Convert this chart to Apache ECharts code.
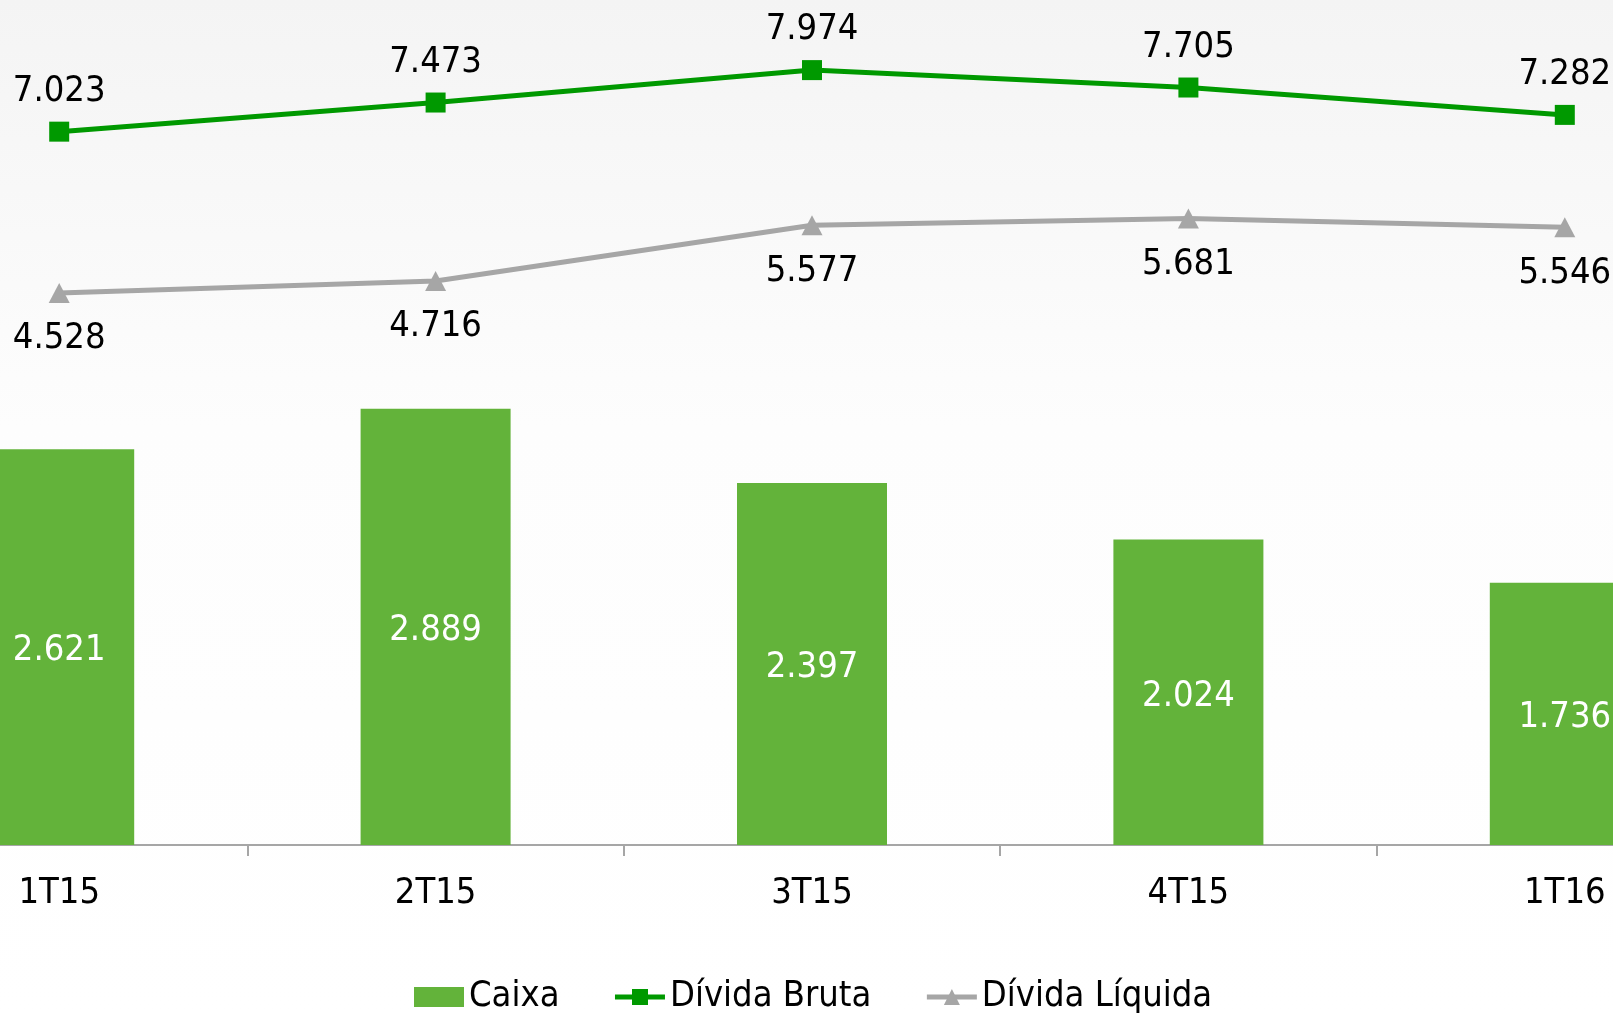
<!DOCTYPE html>
<html>

<head>
  <meta charset="utf-8" />
  <script src="https://cdn.jsdelivr.net/npm/echarts@6/dist/echarts.min.js"></script>
  <style>
    html, body { margin: 0; padding: 0; }
    #chart { width: 1613px; height: 1013px; }
  </style>
</head>

<body>
  <div id="chart"></div>
  <script type="text/javascript">
    const categories = ["1T15", "2T15", "3T15", "4T15", "1T16"];
    const caixa = [2621, 2889, 2397, 2024, 1736];
    const dividaBruta = [7023, 7473, 7974, 7705, 7282];
    const dividaLiquida = [4528, 4716, 5577, 5681, 5546];

    const font = "'DejaVu Sans Condensed', 'DejaVu Sans', sans-serif";
    const fmt = v => {
      const s = String(v);
      return s.length > 3 ? s.slice(0, -3) + "." + s.slice(-3) : s;
    };

    const chart = echarts.init(document.getElementById("chart"));

    var option = {
      animation: false,
      backgroundColor: {
        type: 'linear', x: 0, y: 0, x2: 0, y2: 1,
        colorStops: [
          { offset: 0, color: '#f4f4f4' },
          { offset: 0.42, color: '#fdfdfd' },
          { offset: 1, color: '#ffffff' }
        ]
      },
      textStyle: { fontFamily: font },
      grid: {
        left: -129,
        width: 1882,
        top: -61,
        height: 906,
        outerBoundsMode: 'none',
        containLabel: false
      },
      legend: {
        left: 409,
        top: 974,
        itemWidth: 50,
        itemHeight: 20,
        itemGap: 53,
        textStyle: {
          fontFamily: font,
          fontSize: 36,
          color: '#000'
        },
        data: [
          { name: 'Caixa', icon: 'rect' },
          { name: 'Dívida Bruta', lineStyle: { width: 5 } },
          { name: 'Dívida Líquida', lineStyle: { width: 5 } }
        ]
      },
      xAxis: {
        type: 'category',
        data: categories,
        axisLine: { show: true, lineStyle: { color: '#a6a6a6', width: 2 } },
        axisTick: { show: true, length: 11, lineStyle: { color: '#a6a6a6', width: 2 } },
        axisLabel: { fontSize: 36, color: '#000', margin: 31, fontFamily: font }
      },
      yAxis: [
        { type: 'value', min: 0, max: 6000, show: false, splitLine: { show: false } },
        { type: 'value', min: -4000, max: 10000, show: false, splitLine: { show: false } }
      ],
      series: [
        {
          name: 'Caixa',
          type: 'bar',
          data: caixa,
          barWidth: 150,
          itemStyle: { color: '#63b33a' },
          label: {
            show: true,
            position: 'inside',
            offset: [0, 4],
            color: '#fff',
            fontSize: 36,
            fontFamily: font,
            formatter: p => fmt(p.value)
          }
        },
        {
          name: 'Dívida Bruta',
          type: 'line',
          yAxisIndex: 1,
          data: dividaBruta,
          symbol: 'rect',
          symbolSize: 20,
          itemStyle: { color: '#009900' },
          lineStyle: { color: '#009900', width: 5 },
          label: {
            show: true,
            position: 'top',
            distance: 12,
            color: '#000',
            fontSize: 36,
            fontFamily: font,
            formatter: p => fmt(p.value)
          }
        },
        {
          name: 'Dívida Líquida',
          type: 'line',
          yAxisIndex: 1,
          data: dividaLiquida,
          symbol: 'triangle',
          symbolSize: [21, 20],
          itemStyle: { color: '#a6a6a6' },
          lineStyle: { color: '#a6a6a6', width: 5 },
          label: {
            show: true,
            position: 'bottom',
            distance: 18,
            color: '#000',
            fontSize: 36,
            fontFamily: font,
            formatter: p => fmt(p.value)
          }
        }
      ]
    };

    chart.setOption(option);

    window.onresize = () => {
      chart?.resize();
    };
  </script>
</body>

</html>
